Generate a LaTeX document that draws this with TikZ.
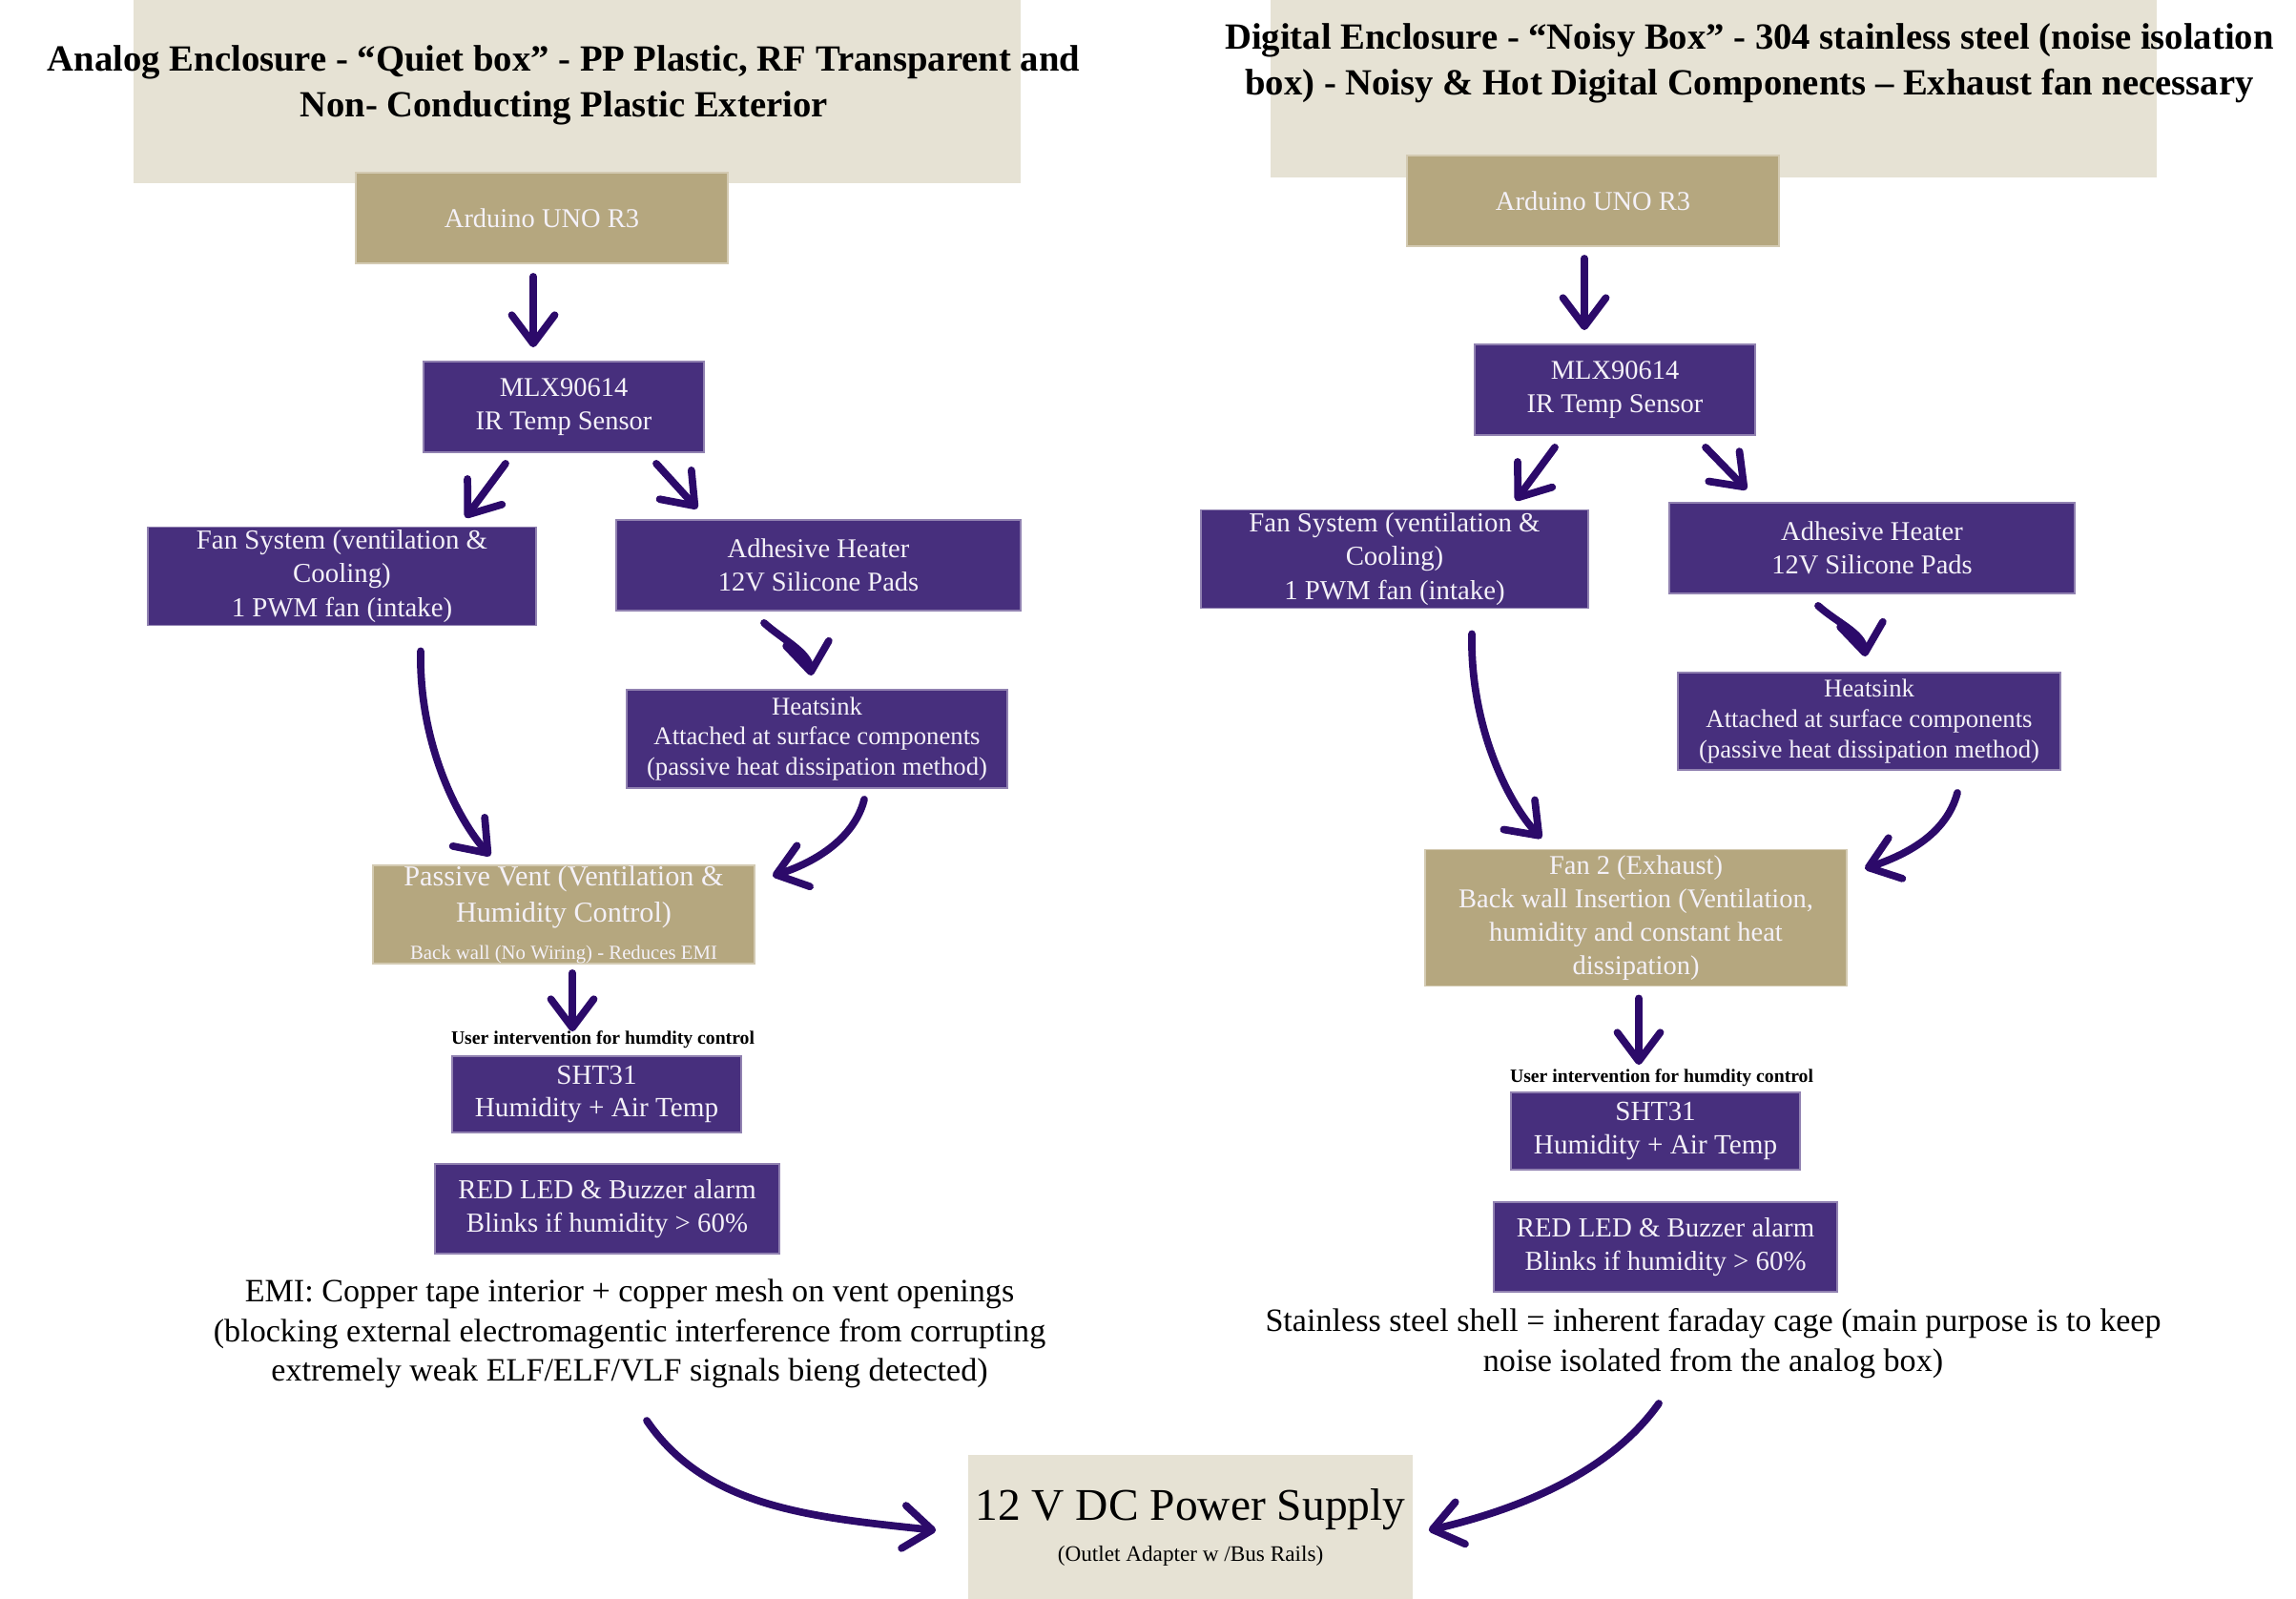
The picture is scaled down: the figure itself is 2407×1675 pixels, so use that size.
\documentclass[tikz,border=0pt]{standalone}
\usepackage{fontspec}
\setmainfont{Liberation Serif}
\usetikzlibrary{arrows.meta,calc}
\definecolor{beige}{HTML}{E6E2D4}
\definecolor{tanbox}{HTML}{B5A77F}
\definecolor{purp}{HTML}{472F7D}
\definecolor{ink}{HTML}{2C0A6A}
\definecolor{boxtxt}{HTML}{F4F1F8}
\begin{document}
\begin{tikzpicture}[x=0.01cm,y=-0.01cm,
  pbox/.style={fill=purp, draw=purp!60!white, line width=0.5pt, text=boxtxt, align=center, inner sep=0pt, font=\fontsize{8.1}{9.8}\selectfont},
  tbox/.style={fill=tanbox, draw=tanbox!60!white, line width=0.5pt, text=boxtxt, align=center, inner sep=0pt, font=\fontsize{8.1}{9.8}\selectfont},
  bgbox/.style={fill=beige, inner sep=0pt},
  titletxt/.style={align=center, inner sep=0pt, font=\fontsize{11}{13.7}\selectfont\bfseries},
  notetxt/.style={align=center, inner sep=0pt, font=\fontsize{9.7}{11.8}\selectfont},
  usertxt/.style={inner sep=0pt, font=\fontsize{5.6}{6.5}\selectfont\bfseries},
  arr/.style={draw=ink, line width=2.2pt, line cap=round, line join=round, -{Straight Barb[length=0.3cm,width=0.45cm,round]}},
]
\useasboundingbox (0,0) rectangle (2407,1675);
\fill[white] (0,0) rectangle (2407,1675);

% ---------- Left: analog enclosure ----------
\node[bgbox, minimum width=9.30cm, minimum height=1.92cm] (t1box) at (605,96) {};
\node[titletxt] (t1) at (591,89) {Analog Enclosure - “Quiet box” - PP Plastic, RF Transparent and\\Non- Conducting Plastic Exterior};

\node[tbox, minimum width=3.90cm, minimum height=0.95cm] (ard1) at (568,228.5) {Arduino UNO R3};
\node[pbox, minimum width=2.94cm, minimum height=0.95cm] (mlx1) at (591,426.5) {MLX90614\\IR Temp Sensor};
\node[pbox, minimum width=4.07cm, minimum height=1.03cm, font=\fontsize{8.2}{10}\selectfont] (fan1) at (358.5,604) {Fan System (ventilation \&\\Cooling)\\1 PWM fan (intake)};
\node[pbox, minimum width=4.24cm, minimum height=0.95cm] (heat1) at (858,592.5) {Adhesive Heater\\12V Silicone Pads};
\node[pbox, minimum width=3.99cm, minimum height=1.03cm, font=\fontsize{7.6}{9}\selectfont] (sink1) at (856.5,774.5) {Heatsink\\Attached at surface components\\(passive heat dissipation method)};
\node[tbox, minimum width=4.00cm, minimum height=1.03cm, font=\fontsize{8.6}{11}\selectfont] (vent1) at (591,958.5) {Passive Vent (Ventilation \&\\Humidity Control)\\{\fontsize{5.9}{7}\selectfont Back wall (No Wiring) - Reduces EMI}};
\node[usertxt] (user1) at (632,1090) {User intervention for humdity control};
\node[pbox, minimum width=3.03cm, minimum height=0.80cm, font=\fontsize{8.3}{9.8}\selectfont] (sht1) at (625.5,1147) {SHT31\\Humidity + Air Temp};
\node[pbox, minimum width=3.61cm, minimum height=0.94cm, font=\fontsize{8.2}{9.8}\selectfont] (led1) at (636.5,1267) {RED LED \& Buzzer alarm\\Blinks if humidity > 60\%};
\node[notetxt] (emi) at (660,1398) {EMI: Copper tape interior + copper mesh on vent openings\\(blocking external electromagentic interference from corrupting\\extremely weak ELF/ELF/VLF signals bieng detected)};

% ---------- Right: digital enclosure ----------
\node[bgbox, minimum width=9.29cm, minimum height=1.86cm] (t2box) at (1796.5,93) {};
\node[titletxt] (t2) at (1834,66) {Digital Enclosure - “Noisy Box” - 304 stainless steel (noise isolation\\box) - Noisy \& Hot Digital Components – Exhaust fan necessary};

\node[tbox, minimum width=3.90cm, minimum height=0.95cm] (ard2) at (1670,210.5) {Arduino UNO R3};
\node[pbox, minimum width=2.94cm, minimum height=0.95cm] (mlx2) at (1693,408.5) {MLX90614\\IR Temp Sensor};
\node[pbox, minimum width=4.06cm, minimum height=1.03cm, font=\fontsize{8.2}{10}\selectfont] (fan2) at (1462,586) {Fan System (ventilation \&\\Cooling)\\1 PWM fan (intake)};
\node[pbox, minimum width=4.25cm, minimum height=0.95cm] (heat2) at (1962.5,574.5) {Adhesive Heater\\12V Silicone Pads};
\node[pbox, minimum width=4.01cm, minimum height=1.02cm, font=\fontsize{7.6}{9}\selectfont] (sink2) at (1959.5,756) {Heatsink\\Attached at surface components\\(passive heat dissipation method)};
\node[tbox, minimum width=4.42cm, minimum height=1.43cm, font=\fontsize{8.1}{10}\selectfont] (exh2) at (1715,962) {Fan 2 (Exhaust)\\Back wall Insertion (Ventilation,\\humidity and constant heat\\dissipation)};
\node[usertxt] (user2) at (1742,1130) {User intervention for humdity control};
\node[pbox, minimum width=3.03cm, minimum height=0.81cm, font=\fontsize{8.3}{9.8}\selectfont] (sht2) at (1735.5,1185.5) {SHT31\\Humidity + Air Temp};
\node[pbox, minimum width=3.60cm, minimum height=0.94cm, font=\fontsize{8.2}{9.8}\selectfont] (led2) at (1746,1307) {RED LED \& Buzzer alarm\\Blinks if humidity > 60\%};
\node[notetxt] (steel) at (1796,1408) {Stainless steel shell = inherent faraday cage (main purpose is to keep\\noise isolated from the analog box)};

% ---------- Power supply ----------
\node[bgbox, minimum width=4.66cm, minimum height=1.52cm, align=center, font=\fontsize{13.5}{15}\selectfont] (pwr) at (1248,1601) {12 V DC Power Supply\\[-3pt]{\fontsize{6.6}{8}\selectfont (Outlet Adapter w /Bus Rails)}};

% ---------- Connectors, left ----------
\draw[arr] ($(ard1.south)+(-9,13)$) -- ($(mlx1.north)+(-32,-14)$);
\draw[arr] ($(mlx1.south)+(-61,11)$) -- ($(fan1.north)+(129.5,-9)$);
\draw[arr] ($(mlx1.south)+(97,11)$) -- ($(heat1.north)+(-127,-11)$);
\draw[arr] ($(heat1.south)+(-57,12)$) .. controls +(20,18) and +(-3,-25) .. ($(sink1.north)+(-6,-14)$);
\draw[arr] ($(fan1.south)+(82.5,26)$) .. controls +(-2,97) and +(-34,-38) .. ($(vent1.north)+(-77,-9)$);
\draw[arr] ($(sink1.south)+(49.5,11)$) .. controls +(-11,43) and +(41,-13) .. ($(vent1.east)+(18,-40.5)$);
\draw[arr] ($(vent1.south)+(9,9)$) -- ($(sht1.north)+(-25.5,-25)$);
\draw[arr] ($(emi.center)+(18,91)$) .. controls +(62,91) and +(-132,-14) .. ($(pwr.west)+(-33,3)$);

% ---------- Connectors, right ----------
\draw[arr] ($(ard2.south)+(-9,12)$) -- ($(mlx2.north)+(-32,-14)$);
\draw[arr] ($(mlx2.south)+(-63,12)$) -- ($(fan2.north)+(127,-9)$);
\draw[arr] ($(mlx2.south)+(95,12)$) -- ($(heat2.north)+(-131.5,-13)$);
\draw[arr] ($(heat2.south)+(-56.5,12)$) .. controls +(20,18) and +(-3,-25) .. ($(sink2.north)+(-4,-16)$);
\draw[arr] ($(fan2.south)+(81,26)$) .. controls +(-2,95) and +(-36,-38) .. ($(exh2.north)+(-99,-11)$);
\draw[arr] ($(sink2.south)+(92.5,23)$) .. controls +(-12,45) and +(41,-14) .. ($(exh2.east)+(18,-51.5)$);
\draw[arr] ($(exh2.south)+(3,12)$) -- ($(sht2.north)+(-17.5,-28)$);
\draw[arr] ($(steel.center)+(-57,63)$) .. controls +(-49,69) and +(103,-24) .. ($(pwr.east)+(16,3)$);
\end{tikzpicture}
\end{document}
